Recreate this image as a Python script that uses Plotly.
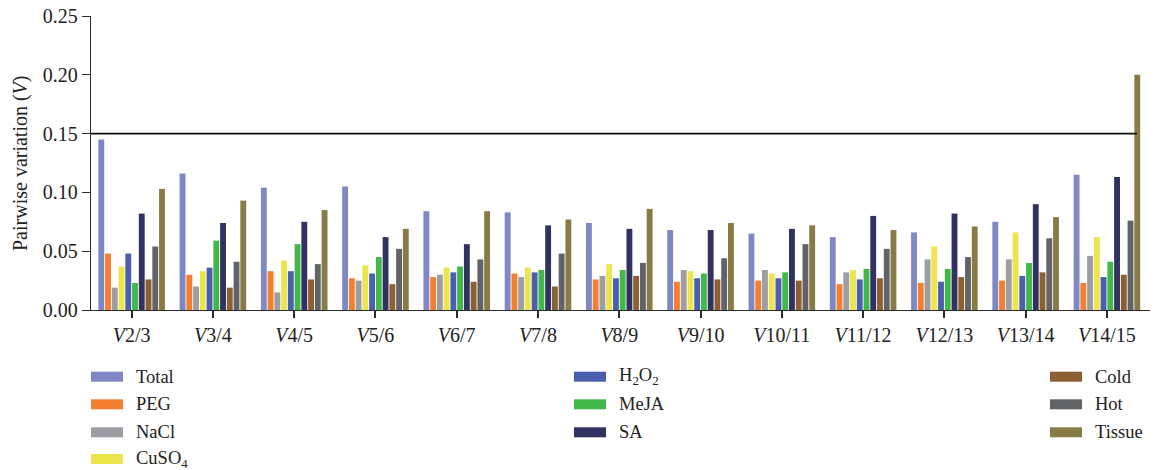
import plotly.graph_objects as go

# Pairwise variation (V) of candidate reference genes, by sample set
pairs = ["V2/3", "V3/4", "V4/5", "V5/6", "V6/7", "V7/8", "V8/9",
         "V9/10", "V10/11", "V11/12", "V12/13", "V13/14", "V14/15"]
pair_labels = ["<i>V</i>" + p[1:] for p in pairs]

total = [0.145, 0.116, 0.104, 0.105, 0.084, 0.083, 0.074, 0.068, 0.065, 0.062, 0.066, 0.075, 0.115]
peg = [0.048, 0.030, 0.033, 0.027, 0.028, 0.031, 0.026, 0.024, 0.025, 0.022, 0.023, 0.025, 0.023]
nacl = [0.019, 0.020, 0.015, 0.025, 0.030, 0.028, 0.029, 0.034, 0.034, 0.032, 0.043, 0.043, 0.046]
cuso4 = [0.037, 0.033, 0.042, 0.038, 0.036, 0.036, 0.039, 0.033, 0.031, 0.034, 0.054, 0.066, 0.062]
h2o2 = [0.048, 0.036, 0.033, 0.031, 0.032, 0.032, 0.027, 0.027, 0.027, 0.026, 0.024, 0.029, 0.028]
meja = [0.023, 0.059, 0.056, 0.045, 0.037, 0.034, 0.034, 0.031, 0.032, 0.035, 0.035, 0.040, 0.041]
sa = [0.082, 0.074, 0.075, 0.062, 0.056, 0.072, 0.069, 0.068, 0.069, 0.080, 0.082, 0.090, 0.113]
cold = [0.026, 0.019, 0.026, 0.022, 0.024, 0.020, 0.029, 0.026, 0.025, 0.027, 0.028, 0.032, 0.030]
hot = [0.054, 0.041, 0.039, 0.052, 0.043, 0.048, 0.040, 0.044, 0.056, 0.052, 0.045, 0.061, 0.076]
tissue = [0.103, 0.093, 0.085, 0.069, 0.084, 0.077, 0.086, 0.074, 0.072, 0.068, 0.071, 0.079, 0.200]

threshold = 0.15

series = [
    ("Total", total, "#7f88c4"),
    ("PEG", peg, "#f47f30"),
    ("NaCl", nacl, "#9d9ea3"),
    ("CuSO<sub>4</sub>", cuso4, "#ebe64e"),
    ("H<sub>2</sub>O<sub>2</sub>", h2o2, "#4a5fad"),
    ("MeJA", meja, "#43b84a"),
    ("SA", sa, "#323262"),
    ("Cold", cold, "#8b6132"),
    ("Hot", hot, "#616366"),
    ("Tissue", tissue, "#897b45"),
]

W, H = 1154, 470
ML, MR, MT, MB = 91, 4, 16, 160
FONT = "'Liberation Serif', 'Times New Roman', serif"
AXIS_COLOR = "#2b2b2b"

fig = go.Figure()
for name, vals, color in series:
    fig.add_trace(go.Bar(x=pairs, y=vals, name=name, marker=dict(color=color, line=dict(width=0)),
                         showlegend=False))

# threshold line at V = 0.15
fig.add_shape(type="line", xref="x", yref="y", x0=-0.5, x1=12.37, y0=threshold, y1=threshold,
              line=dict(color="#111111", width=1.6))


def px_x(p):
    return (p - ML) / (W - ML - MR)


def px_y(p):
    return (H - MB - p) / (H - MT - MB)


# legend laid out in three columns
legend_cols = [(91, [0, 1, 2, 3]), (574, [4, 5, 6]), (1050, [7, 8, 9])]
row_y = [376.7, 404.3, 432.3, 459.0]
for col_x, idxs in legend_cols:
    for r, i in enumerate(idxs):
        name, _, color = series[i]
        cy = row_y[r]
        fig.add_shape(type="rect", xref="paper", yref="paper",
                      x0=px_x(col_x), x1=px_x(col_x + 32), y0=px_y(cy - 5), y1=px_y(cy + 5),
                      fillcolor=color, line=dict(width=0))
        fig.add_annotation(xref="paper", yref="paper", x=px_x(col_x + 44), y=px_y(cy),
                           text=name, showarrow=False, xanchor="left", yanchor="middle",
                           borderpad=0,
                           font=dict(family=FONT, size=18.5, color="#222222"))

# y-axis title
fig.add_annotation(xref="paper", yref="paper", x=px_x(20), y=px_y(163), text="Pairwise variation (<i>V</i>)",
                   textangle=-90, showarrow=False, xanchor="center", yanchor="middle",
                   font=dict(family=FONT, size=20, color="#222222"))

fig.update_layout(
    width=W, height=H,
    margin=dict(l=ML, r=MR, t=MT, b=MB),
    paper_bgcolor="white", plot_bgcolor="white",
    barmode="group", bargap=0.17, bargroupgap=0.13,
    font=dict(family=FONT, size=20, color="#222222"),
)
fig.update_xaxes(
    range=[-0.5, 12.53], tickvals=pairs, ticktext=pair_labels,
    showline=True, linecolor=AXIS_COLOR, linewidth=1.4,
    ticks="outside", ticklen=7, tickwidth=1.5, tickcolor=AXIS_COLOR,
    showgrid=False, zeroline=False,
    tickfont=dict(family=FONT, size=20, color="#222222"),
)
fig.update_yaxes(
    range=[0, 0.25], tickvals=[0, 0.05, 0.10, 0.15, 0.20, 0.25], tickformat=".2f",
    showline=True, linecolor=AXIS_COLOR, linewidth=1.4,
    ticks="outside", ticklen=8, tickwidth=1.4, tickcolor=AXIS_COLOR,
    showgrid=False, zeroline=False,
    tickfont=dict(family=FONT, size=20, color="#222222"),
)

fig.write_html("out.html")
